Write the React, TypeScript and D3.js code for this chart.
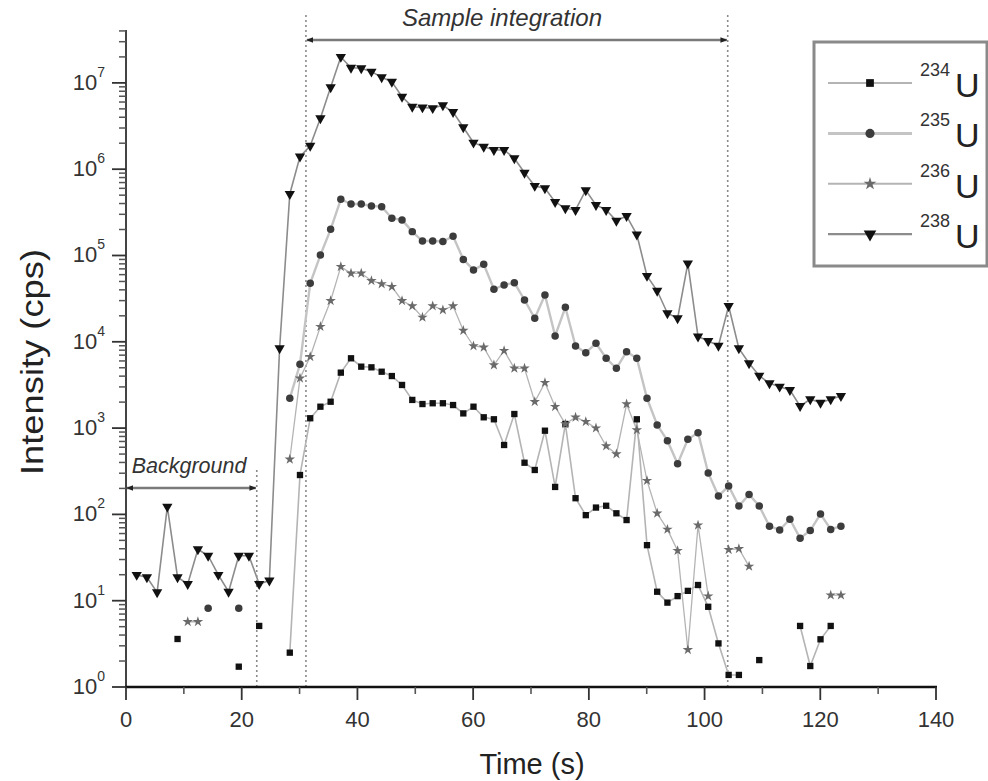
import React from 'react';
import * as d3 from 'd3';

const time = [1.85, 3.61, 5.38, 7.14, 8.91, 10.67, 12.43, 14.2, 15.96, 17.73,
  19.49, 21.25, 23.02, 24.78, 26.55, 28.31, 30.07, 31.84, 33.6, 35.37,
  37.13, 38.89, 40.66, 42.42, 44.19, 45.95, 47.71, 49.48, 51.24, 53.01,
  54.77, 56.53, 58.3, 60.06, 61.83, 63.59, 65.35, 67.12, 68.88, 70.65,
  72.41, 74.17, 75.94, 77.7, 79.47, 81.23, 82.99, 84.76, 86.52, 88.29,
  90.05, 91.81, 93.58, 95.34, 97.11, 98.87, 100.63, 102.4, 104.16, 105.93,
  107.69, 109.45, 111.22, 112.98, 114.75, 116.51, 118.27, 120.04, 121.8, 123.57];

const u234: (number | null)[] = [null, null, null, null, 3.6, null, null, null, null, null,
  1.72, null, 5.1, null, null, 2.5, 286, 1300, 1770, 2020,
  4390, 6440, 5150, 5060, 4500, 4010, 3160, 2120, 1900, 1940,
  1940, 1850, 1480, 1770, 1334, 1265, 637, 1456, 397, 327,
  933, 208, 1116, 154, 98, 120, 126, 103, 86, 1265,
  44, 12.7, 9.5, 11.3, 13, 15.2, 8.5, 3.2, 1.38, 1.38,
  null, 2.05, null, null, null, 5.1, 1.75, 3.57, 5.1, null];

const u235: (number | null)[] = [null, null, null, null, null, null, null, 8.2, null, null,
  8.2, null, null, null, null, 2215, 5490, 47600, 1.01e5, 2.01e5,
  4.48e5, 3.95e5, 3.95e5, 3.75e5, 3.68e5, 2.7e5, 2.58e5, 1.89e5, 1.47e5, 1.47e5,
  1.45e5, 1.67e5, 9.0e4, 6.8e4, 7.9e4, 4.06e4, 4.55e4, 4.84e4, 3.05e4, 1.87e4,
  3.49e4, 1.17e4, 2.51e4, 8940, 7480, 9610, 6440, 4930, 7680, 6440,
  2215, 1086, 715, 387, 741, 885, 302, 163, 213, 125,
  170, 125, 73, 66, 88, 53, 65, 101, 67, 73];

const u236: (number | null)[] = [null, null, null, null, null, 5.7, 5.7, null, null, null,
  null, null, null, null, null, 435, 3780, 6720, 1.5e4, 2.99e4,
  7.42e4, 6.22e4, 6.22e4, 5.1e4, 4.68e4, 4.35e4, 2.99e4, 2.6e4, 1.92e4, 2.6e4,
  2.34e4, 2.6e4, 1.35e4, 8940, 8630, 5380, 7890, 4930, 4930, 2020,
  3360, 1770, 1116, 1334, 1186, 1000, 620, 501, 1900, 951,
  246, 103, 67, 38, 2.7, 75, 11.3, null, 39, 40,
  25, null, null, null, null, null, null, null, 11.6, 11.6];

const u238: (number | null)[] = [19.9, 18.7, 12.5, 123, 18.7, 15.6, 39.4, 33.2, 19.9, 12.7,
  33.2, 33.2, 15.6, 17.1, 8400, 516000, 1.4e6, 1.87e6, 3.89e6, 8.9e6,
  2.0e7, 1.5e7, 1.48e7, 1.35e7, 1.16e7, 1.03e7, 6.9e6, 5.3e6, 5.2e6, 5.1e6,
  5.5e6, 4.6e6, 3.06e6, 2.03e6, 1.82e6, 1.67e6, 1.67e6, 1.34e6, 9.1e5, 6.4e5,
  6.0e5, 4.17e5, 3.52e5, 3.37e5, 5.7e5, 3.85e5, 3.37e5, 2.53e5, 2.87e5, 1.75e5,
  5.8e4, 3.9e4, 2.14e4, 1.87e4, 8.1e4, 1.15e4, 1.02e4, 9000, 2.6e4, 8400,
  5640, 4050, 3300, 3020, 2760, 1800, 2160, 1970, 2160, 2350];

const isotopes = ['234', '235', '236', '238'];
const xTicks = [0, 20, 40, 60, 80, 100, 120, 140];
const xMinor = [10, 30, 50, 70, 90, 110, 130];
const yDecades = [0, 1, 2, 3, 4, 5, 6, 7];
const boundaries = [22.6, 31.1, 104.0];
const FONT = "'Liberation Sans', Arial, sans-serif";

type Style = { line: string; lw: number; sym: d3.SymbolType; size: number; fill: string; rot: number };
const styles: Style[] = [
  { line: '#b4b4b4', lw: 1.6, sym: d3.symbolSquare, size: 40, fill: '#111', rot: 0 },
  { line: '#c4c4c4', lw: 2.4, sym: d3.symbolCircle, size: 44, fill: '#3c3c3c', rot: 0 },
  { line: '#b4b4b4', lw: 1.3, sym: d3.symbolStar, size: 34, fill: '#6a6a6a', rot: 0 },
  { line: '#8c8c8c', lw: 1.6, sym: d3.symbolTriangle, size: 46, fill: '#111', rot: 180 },
];

export default function App() {
  const W = 988, H = 781;
  const x = d3.scaleLinear().domain([0, 140]).range([126, 936]);
  const y = d3.scaleLog().domain([1, 4.1e7]).range([687, 30]);
  const data = [u234, u235, u236, u238];

  const yMinor: number[] = [];
  yDecades.forEach(k => {
    for (let m = 2; m <= 9; m++) {
      const v = m * Math.pow(10, k);
      if (v <= 4.1e7) yMinor.push(v);
    }
  });

  const lineGen = d3.line<[number, number | null]>()
    .defined(d => d[1] != null)
    .x(d => x(d[0]))
    .y(d => y(d[1] as number));

  const legendX = 814, legendY = 42, legendW = 173, legendH = 224;
  const rowY = (i: number) => 83 + i * 50.4;

  return (
    <svg width={W} height={H} style={{ position: 'absolute', left: 0, top: 0, background: '#fff' }} fontFamily={FONT}>
      <defs>
        <marker id="arr" viewBox="0 0 10 10" refX="9" refY="5" markerWidth="7" markerHeight="7" orient="auto-start-reverse" markerUnits="userSpaceOnUse">
          <path d="M0,1 L10,5 L0,9 z" fill="#222" />
        </marker>
      </defs>
      <rect x={0} y={0} width={W} height={H} fill="#fff" />

      {/* boundary dotted lines */}
      {boundaries.map((b, i) => (
        <line key={'b' + i} x1={x(b)} x2={x(b)} y1={i === 0 ? 470 : 15} y2={687}
          stroke="#8a8a8a" strokeWidth={1.6} strokeDasharray="2,3" />
      ))}

      {/* series lines */}
      {data.map((vals, si) => (
        <path key={'l' + si} d={lineGen(time.map((t, i) => [t, vals[i]]) as [number, number | null][]) || ''}
          fill="none" stroke={styles[si].line} strokeWidth={styles[si].lw} />
      ))}
      {/* markers */}
      {data.map((vals, si) => (
        <g key={'m' + si}>
          {time.map((t, i) => vals[i] == null ? null : (
            <path key={i} d={d3.symbol().type(styles[si].sym).size(styles[si].size)() || ''}
              transform={`translate(${x(t)},${y(vals[i] as number)}) rotate(${styles[si].rot})`}
              fill={styles[si].fill} />
          ))}
        </g>
      ))}

      {/* axes */}
      <line x1={126} x2={126} y1={30} y2={688} stroke="#444" strokeWidth={2} />
      <line x1={125} x2={937} y1={687} y2={687} stroke="#111" strokeWidth={2.5} />
      {xTicks.map(t => (
        <g key={'xt' + t}>
          <line x1={x(t)} x2={x(t)} y1={687} y2={700} stroke="#333" strokeWidth={1.8} />
          <text x={x(t)} y={727} textAnchor="middle" fontSize={22} fill="#333">{t}</text>
        </g>
      ))}
      {xMinor.map(t => (
        <line key={'xm' + t} x1={x(t)} x2={x(t)} y1={687} y2={694} stroke="#555" strokeWidth={1.6} />
      ))}
      {yDecades.map(k => (
        <g key={'yt' + k}>
          <line x1={112} x2={126} y1={y(Math.pow(10, k))} y2={y(Math.pow(10, k))} stroke="#333" strokeWidth={1.8} />
          <text x={105} y={y(Math.pow(10, k)) + 7} textAnchor="end" fontSize={22} fill="#333">
            10<tspan dy={-13} fontSize={14}>{k}</tspan>
          </text>
        </g>
      ))}
      {yMinor.map((v, i) => (
        <line key={'ym' + i} x1={119} x2={126} y1={y(v)} y2={y(v)} stroke="#555" strokeWidth={1.5} />
      ))}

      {/* axis titles */}
      <text x={532} y={774} textAnchor="middle" fontSize={29} fill="#222">Time (s)</text>
      <text transform="translate(43,362) rotate(-90)" textAnchor="middle" fontSize={31} fill="#222"
        textLength={226} lengthAdjust="spacingAndGlyphs">Intensity (cps)</text>

      {/* annotations */}
      <line x1={x(31.1) + 1} x2={x(104.0) - 1} y1={40} y2={40} stroke="#7a7a7a" strokeWidth={2.5}
        markerStart="url(#arr)" markerEnd="url(#arr)" />
      <text x={502} y={26} textAnchor="middle" fontSize={24} fontStyle="italic" fill="#333">Sample integration</text>
      <line x1={127} x2={x(22.6) - 1} y1={488} y2={488} stroke="#7a7a7a" strokeWidth={2.5}
        markerStart="url(#arr)" markerEnd="url(#arr)" />
      <text x={189} y={473} textAnchor="middle" fontSize={21.5} fontStyle="italic" fill="#333">Background</text>

      {/* legend */}
      <rect x={legendX} y={legendY} width={legendW} height={legendH} fill="#fff" stroke="#8a8a8a" strokeWidth={3} />
      {isotopes.map((iso, i) => (
        <g key={'lg' + i}>
          <line x1={828} x2={912} y1={rowY(i)} y2={rowY(i)} stroke={styles[i].line} strokeWidth={styles[i].lw + 0.6} />
          <path d={d3.symbol().type(styles[i].sym).size(styles[i].size * 1.5)() || ''}
            transform={`translate(870,${rowY(i)}) rotate(${styles[i].rot})`} fill={styles[i].fill} />
          <text x={920} y={rowY(i) - 7} fontSize={18} fill="#333">{iso}</text>
          <text x={955} y={rowY(i) + 14} fontSize={34} fill="#222">U</text>
        </g>
      ))}
    </svg>
  );
}
